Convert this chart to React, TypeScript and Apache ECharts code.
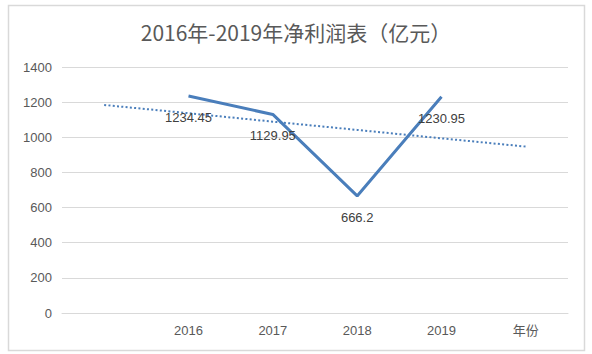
import React, { useEffect, useRef } from "react";
import * as echarts from "echarts";

const categories = ["", "2016", "2017", "2018", "2019", "年份"];
const profit = [null, 1234.45, 1129.95, 666.2, 1230.95, null];
const trend = [1184, 1137, 1089, 1042, 994, 947];
const yTicks = { min: 0, max: 1400, interval: 200 };
const titleText = "2016年-2019年净利润表（亿元）";

export default function App() {
  const ref = useRef<HTMLDivElement>(null);
  useEffect(() => {
    if (!ref.current) return;
    const chart = echarts.init(ref.current, null, { renderer: "svg" });
    chart.setOption({
      animation: false,
      backgroundColor: "#ffffff",
      title: {
        text: titleText,
        left: "center",
        top: 16,
        textStyle: {
          fontSize: 21,
          fontWeight: "normal",
          color: "#595959",
          fontFamily: "Noto Sans CJK SC",
        },
      },
      graphic: [
        {
          type: "rect",
          shape: { x: 8.5, y: 5.5, width: 576, height: 345 },
          style: { fill: "none", stroke: "#d9d9d9", lineWidth: 1.5 },
          silent: true,
        },
      ],
      grid: { left: 62, right: 24, top: 67, bottom: 41 },
      xAxis: {
        type: "category",
        data: categories,
        boundaryGap: true,
        axisLine: { show: true, lineStyle: { color: "#d9d9d9", width: 1 } },
        axisTick: { show: false },
        axisLabel: {
          color: "#595959",
          fontSize: 13,
          margin: 11,
          fontFamily: "Liberation Sans, Noto Sans CJK SC",
        },
      },
      yAxis: {
        type: "value",
        min: yTicks.min,
        max: yTicks.max,
        interval: yTicks.interval,
        axisLine: { show: false },
        axisTick: { show: false },
        splitLine: { lineStyle: { color: "#d9d9d9", width: 1 } },
        axisLabel: {
          color: "#595959",
          fontSize: 13,
          margin: 10,
          fontFamily: "Liberation Sans",
          formatter: (v: number) => String(v),
        },
      },
      series: [
        {
          type: "line",
          data: trend,
          symbol: "none",
          lineStyle: { color: "#4a7ebb", width: 2, type: [2, 2.3] },
          z: 1,
        },
        {
          type: "line",
          data: profit,
          symbol: "circle",
          symbolSize: 4,
          showSymbol: true,
          itemStyle: { color: "rgba(0,0,0,0)" },
          lineStyle: { color: "#4a7ebb", width: 3 },
          label: {
            show: true,
            position: "bottom",
            distance: 13,
            color: "#404040",
            fontSize: 13,
            fontFamily: "Liberation Sans",
            formatter: (p: any) => String(p.value),
          },
          z: 2,
        },
      ],
    });
    return () => chart.dispose();
  }, []);
  return (
    <div
      ref={ref}
      style={{ position: "absolute", left: 0, top: 0, width: 592, height: 354 }}
    />
  );
}
